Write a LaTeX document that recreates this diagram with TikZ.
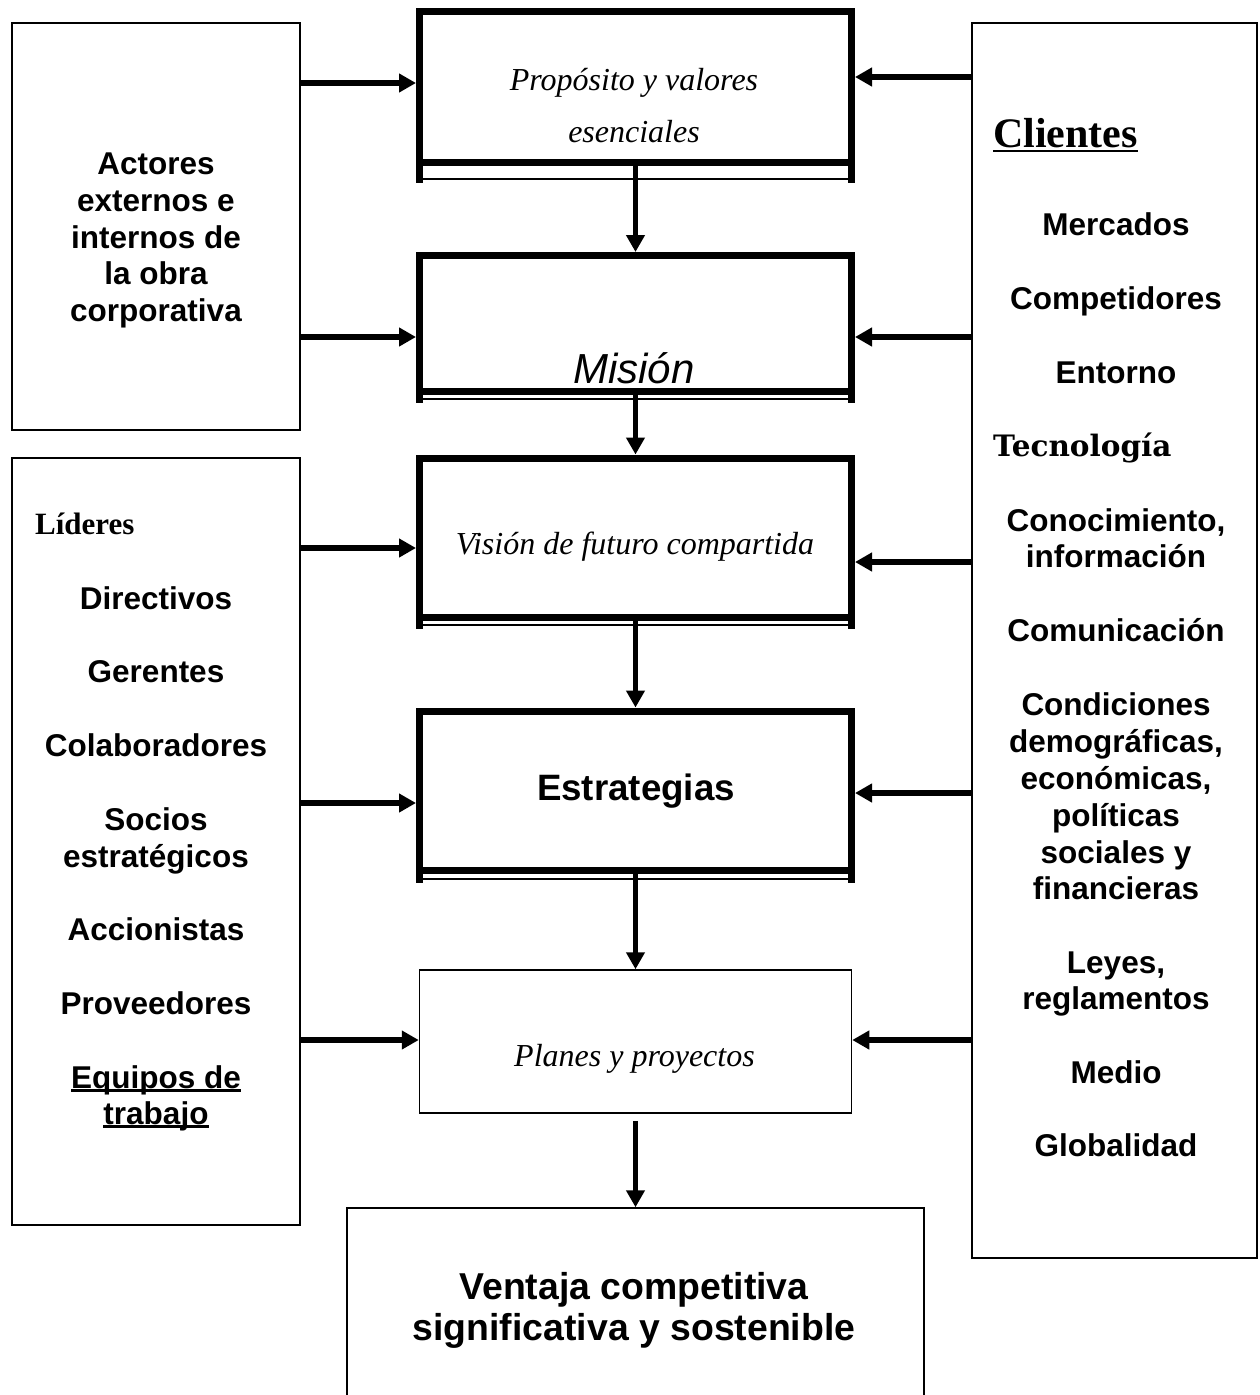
\documentclass[tikz,border=0pt]{standalone}
\usepackage{fontspec}
\setmainfont{Liberation Serif}
\newfontfamily\arialf{Liberation Sans}
\newfontfamily\tecfont{DejaVu Serif}
\usetikzlibrary{arrows.meta}
\newcommand\myul[2][-3.5pt]{\setbox0\hbox{#2}\rlap{\rule[#1]{\wd0}{2.2pt}}\box0}
\tikzset{
  thinbox/.style={draw, line width=1.5pt, inner sep=0pt},
  thickbox/.style={draw, line width=7pt, inner sep=0pt},
  leg/.style={line width=7pt},
  thinline/.style={line width=1.5pt},
  arr/.style={line width=5.5pt, -{Triangle[length=17pt,width=18pt]}},
  sanslbl/.style={anchor=base, inner sep=0pt, font=\arialf\bfseries\fontsize{31.5}{37}\selectfont},
  seriflbl/.style={anchor=base, inner sep=0pt, font=\itshape\fontsize{32}{38}\selectfont},
}
\begin{document}
\begin{tikzpicture}[x=1pt,y=-1pt]
\useasboundingbox (0,0) rectangle (1259,1395);
\clip (0,0) rectangle (1259,1395);
% side boxes
\node[thinbox, minimum width=288pt, minimum height=407pt] (L1) at (156,226.5) {};
\node[thinbox, minimum width=288pt, minimum height=767pt] (L2) at (156,841.5) {};
\node[thinbox, minimum width=285pt, minimum height=1235pt] (R) at (1114.5,640.5) {};
% central boxes
\node[thickbox, minimum width=432pt, minimum height=151pt] (b1) at (635.5,86.5) {};
\node[thickbox, minimum width=432pt, minimum height=136pt] (b2) at (635.5,323.5) {};
\node[thickbox, minimum width=432pt, minimum height=159.5pt] (b3) at (635.5,537.75) {};
\node[thickbox, minimum width=432pt, minimum height=159.5pt] (b4) at (635.5,790.75) {};
\node[thinbox, minimum width=432pt, minimum height=143pt] (b5) at (635.5,1041.5) {};
\node[thinbox, minimum width=577pt, minimum height=192pt] (V) at (635.5,1304) {};
% legs and thin lines under thick boxes
\draw[leg] ([xshift=3.5pt,yshift=3.5pt]b1.south west) -- ++(0,21);
\draw[leg] ([xshift=-3.5pt,yshift=3.5pt]b1.south east) -- ++(0,21);
\draw[thinline] ([xshift=7pt,yshift=-13.5pt]b1.south west) -- ([xshift=-7pt,yshift=-13.5pt]b1.south east);
\draw[leg] ([xshift=3.5pt,yshift=3.5pt]b2.south west) -- ++(0,11.5);
\draw[leg] ([xshift=-3.5pt,yshift=3.5pt]b2.south east) -- ++(0,11.5);
\draw[thinline] ([xshift=7pt,yshift=-4pt]b2.south west) -- ([xshift=-7pt,yshift=-4pt]b2.south east);
\draw[leg] ([xshift=3.5pt,yshift=3.5pt]b3.south west) -- ++(0,11.5);
\draw[leg] ([xshift=-3.5pt,yshift=3.5pt]b3.south east) -- ++(0,11.5);
\draw[thinline] ([xshift=7pt,yshift=-4pt]b3.south west) -- ([xshift=-7pt,yshift=-4pt]b3.south east);
\draw[leg] ([xshift=3.5pt,yshift=3.5pt]b4.south west) -- ++(0,12.5);
\draw[leg] ([xshift=-3.5pt,yshift=3.5pt]b4.south east) -- ++(0,12.5);
\draw[thinline] ([xshift=7pt,yshift=-5pt]b4.south west) -- ([xshift=-7pt,yshift=-5pt]b4.south east);
% vertical arrows
\draw[arr] (b1.south) -- (b2.north);
\draw[arr] (b2.south) -- (b3.north);
\draw[arr] (b3.south) -- (b4.north);
\draw[arr] (b4.south) -- (b5.north);
\draw[arr] ([yshift=-7pt]b5.south) -- (V.north);
% horizontal arrows from left
\draw[arr] (L1.east |- 0,83) -- (b1.west |- 0,83);
\draw[arr] (L1.east |- 0,337) -- (b2.west |- 0,337);
\draw[arr] (L2.east |- 0,548) -- (b3.west |- 0,548);
\draw[arr] (L2.east |- 0,803) -- (b4.west |- 0,803);
\draw[arr] (L2.east |- 0,1040) -- (b5.west |- 0,1040);
% horizontal arrows from right
\draw[arr] (R.west |- 0,77) -- (b1.east |- 0,77);
\draw[arr] (R.west |- 0,337) -- (b2.east |- 0,337);
\draw[arr] (R.west |- 0,562) -- (b3.east |- 0,562);
\draw[arr] (R.west |- 0,793) -- (b4.east |- 0,793);
\draw[arr] (R.west |- 0,1040) -- (b5.east |- 0,1040);
% central texts
\node[seriflbl] (t1a) at (634,90) {Propósito y valores};
\node[seriflbl] (t1b) at (634,142) {esenciales};
\node[anchor=base, inner sep=0pt, font=\arialf\itshape\fontsize{42}{48}\selectfont] (t2) at (634,383) {Misión};
\node[seriflbl] (t3) at (635,554) {Visión de futuro compartida};
\node[anchor=base, inner sep=0pt, font=\arialf\bfseries\fontsize{36.7}{42}\selectfont] (t4) at (636,800) {Estrategias};
\node[seriflbl] (t5) at (634.5,1066) {Planes y proyectos};
\node[anchor=base, inner sep=0pt, font=\arialf\bfseries\fontsize{37.4}{42}\selectfont] (t6a) at (634,1299) {Ventaja competitiva};
\node[anchor=base, inner sep=0pt, font=\arialf\bfseries\fontsize{37.4}{42}\selectfont] (t6b) at (634,1340) {significativa y sostenible};
% left top texts
\node[sanslbl] (la1) at (156,174) {Actores};
\node[sanslbl] (la2) at (156,211) {externos e};
\node[sanslbl] (la3) at (156,248) {internos de};
\node[sanslbl] (la4) at (156,284) {la obra};
\node[sanslbl] (la5) at (156,321) {corporativa};
% left bottom texts
\node[anchor=base west, inner sep=0pt, font=\bfseries\fontsize{31}{37}\selectfont] (lb0) at (35,534) {Líderes};
\node[sanslbl] (lb1) at (156,609) {Directivos};
\node[sanslbl] (lb2) at (156,682) {Gerentes};
\node[sanslbl] (lb3) at (156,756) {Colaboradores};
\node[sanslbl] (lb4) at (156,830) {Socios};
\node[sanslbl] (lb5) at (156,867) {estratégicos};
\node[sanslbl] (lb6) at (156,940) {Accionistas};
\node[sanslbl] (lb7) at (156,1014) {Proveedores};
\node[sanslbl] (lb8) at (156,1088) {\myul{Equipos de}};
\node[sanslbl] (lb9) at (156,1124) {\myul{trabajo}};
% right texts
\node[anchor=base west, inner sep=0pt, font=\bfseries\fontsize{42}{48}\selectfont] (r0) at (993,147) {\myul[-5pt]{Clientes}};
\node[sanslbl] (r1) at (1116,235) {Mercados};
\node[sanslbl] (r2) at (1116,309) {Competidores};
\node[sanslbl] (r3) at (1116,383) {Entorno};
\node[anchor=base west, inner sep=0pt, font=\tecfont\bfseries\fontsize{29.5}{34}\selectfont] (r4) at (993,456) {Tecnología};
\node[sanslbl] (r5a) at (1116,531) {Conocimiento,};
\node[sanslbl] (r5b) at (1116,567) {información};
\node[sanslbl] (r6) at (1116,641) {Comunicación};
\node[sanslbl] (r7a) at (1116,715) {Condiciones};
\node[sanslbl] (r7b) at (1116,752) {demográficas,};
\node[sanslbl] (r7c) at (1116,789) {económicas,};
\node[sanslbl] (r7d) at (1116,826) {políticas};
\node[sanslbl] (r7e) at (1116,863) {sociales y};
\node[sanslbl] (r7f) at (1116,899) {financieras};
\node[sanslbl] (r8a) at (1116,973) {Leyes,};
\node[sanslbl] (r8b) at (1116,1009) {reglamentos};
\node[sanslbl] (r9) at (1116,1083) {Medio};
\node[sanslbl] (r10) at (1116,1156) {Globalidad};
\end{tikzpicture}
\end{document}
